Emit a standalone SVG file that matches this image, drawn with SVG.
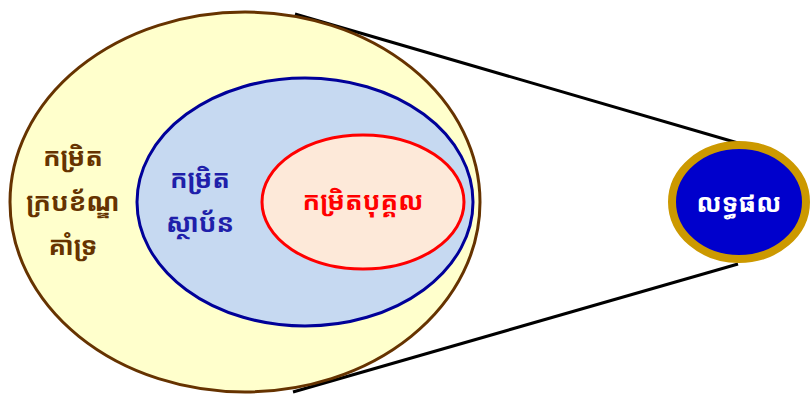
<svg xmlns="http://www.w3.org/2000/svg" width="811" height="394" viewBox="0 0 811 394">
<style>
.t{font-family:"Noto Sans Khmer","Khmer OS","Noto Sans","DejaVu Sans",sans-serif;font-weight:bold;font-size:26px;text-anchor:middle;dominant-baseline:central}
.ln{stroke:#000;stroke-width:3;fill:none}
</style>
<rect width="811" height="394" fill="#fff"/>
<g id="connectors">
<line class="ln" x1="295" y1="14" x2="738" y2="143"/>
<line class="ln" x1="293" y1="392" x2="738" y2="264"/>
</g>
<g id="framework">
<ellipse cx="245" cy="202" rx="235" ry="190" fill="#FFFFCC" stroke="#663300" stroke-width="3"/>
<text class="t" fill="#663300" x="73" y="156">កម្រិត</text>
<text class="t" fill="#663300" x="73" y="201">ក្របខ័ណ្ឌ</text>
<text class="t" fill="#663300" x="73" y="245">គាំទ្រ</text>
</g>
<g id="institution">
<ellipse cx="305" cy="202" rx="168" ry="124" fill="#C6D9F1" stroke="#000099" stroke-width="3"/>
<text class="t" fill="#1F1FAA" x="200" y="178">កម្រិត</text>
<text class="t" fill="#1F1FAA" x="200" y="222">ស្ថាប័ន</text>
</g>
<g id="individual">
<ellipse cx="363" cy="202" rx="101" ry="67" fill="#FDE9D9" stroke="#FF0000" stroke-width="3"/>
<text class="t" fill="#FF0000" x="363" y="200">កម្រិតបុគ្គល</text>
</g>
<g id="outcome">
<ellipse cx="739" cy="202" rx="67" ry="57" fill="#0000CC" stroke="#CC9900" stroke-width="8"/>
<text class="t" fill="#FFFFFF" x="739" y="202">លទ្ធផល</text>
</g>
</svg>
